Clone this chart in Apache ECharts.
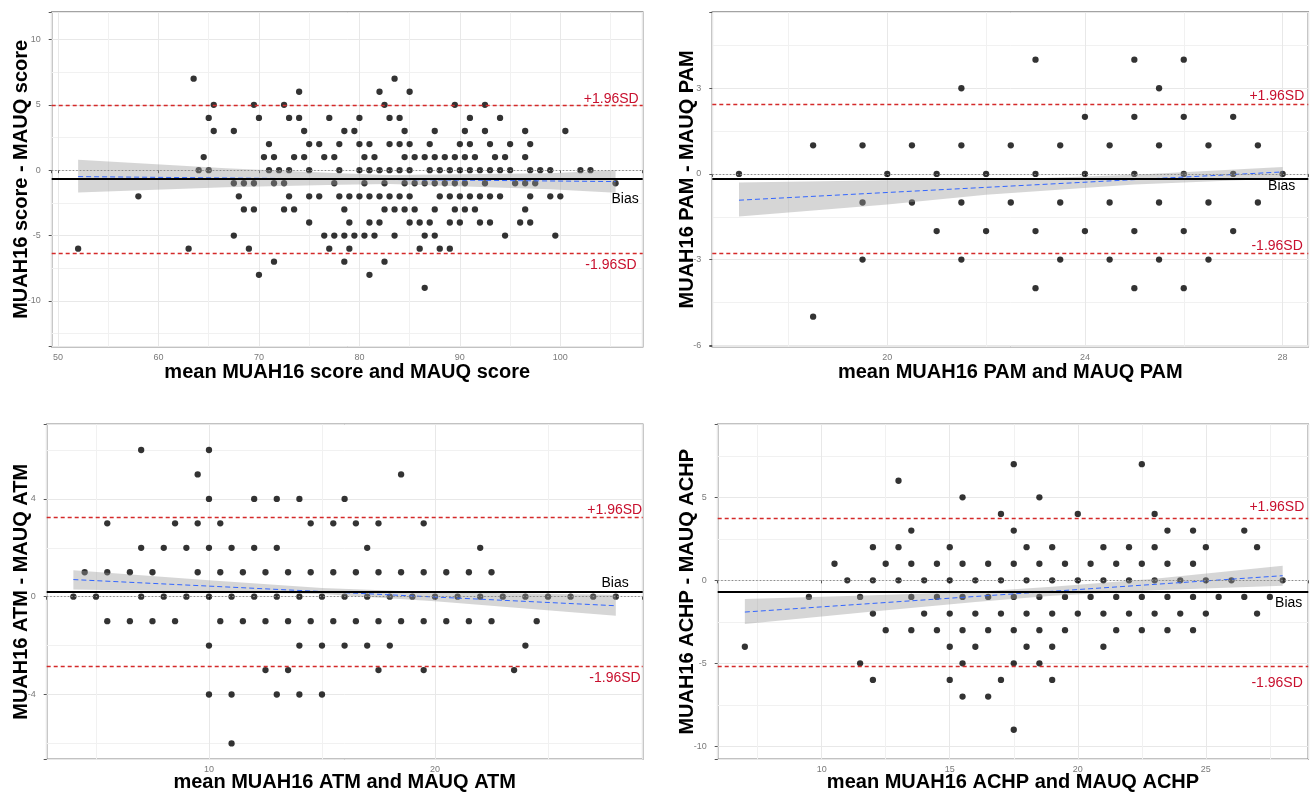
<!DOCTYPE html>
<html><head><meta charset="utf-8">
<script src="https://cdn.jsdelivr.net/npm/echarts@6/dist/echarts.min.js"></script>
<style>html,body{margin:0;padding:0;background:#fff}#c{width:1310px;height:797px}</style>
</head><body><div id="c"></div>
<script>
// ---------- DATA ----------
// Panel 1: score
const scorePoints = [
 [52,-6],[58,-2],[63,-6],[63.5,7],[64,0],[64.5,1],[65,4],[65,0],[65.5,5],[65.5,3],
 [74,6],[69.5,5],[72.5,5],[70,4],[73,4],[74,4],[77,4],[67.5,3],[74.5,3],[71,2],[75,2],[76,2],
 [70.5,1],[71.5,1],[73.5,1],[74.5,1],[76.5,1],[77.5,1],[71,0],[72,0],[73,0],[75,0],
 [67.5,-1],[68.5,-1],[69.5,-1],[71.5,-1],[72.5,-1],[77.5,-1],[68,-2],[73,-2],[75,-2],[76,-2],
 [68.5,-3],[69.5,-3],[72.5,-3],[73.5,-3],[75,-4],[67.5,-5],[76.5,-5],[77.5,-5],[69,-6],[77,-6],[71.5,-7],[70,-8],
 [83.5,7],[82,6],[85,6],[82.5,5],[80,4],[83,4],[84,4],[78.5,3],[79.5,3],[84.5,3],[87.5,3],
 [78,2],[80,2],[81,2],[83,2],[84,2],[85,2],[87,2],
 [80.5,1],[81.5,1],[84.5,1],[85.5,1],[86.5,1],[87.5,1],[88.5,1],
 [78,0],[80,0],[81,0],[82,0],[83,0],[84,0],[85,0],[87,0],[88,0],
 [80.5,-1],[82.5,-1],[84.5,-1],[85.5,-1],[86.5,-1],[87.5,-1],[88.5,-1],
 [78,-2],[79,-2],[80,-2],[81,-2],[82,-2],[83,-2],[84,-2],[85,-2],[88,-2],
 [78.5,-3],[82.5,-3],[83.5,-3],[84.5,-3],[85.5,-3],[87.5,-3],
 [79,-4],[81,-4],[82,-4],[85,-4],[86,-4],[87,-4],
 [78.5,-5],[79.5,-5],[80.5,-5],[81.5,-5],[83.5,-5],[86.5,-5],[87.5,-5],
 [79,-6],[86,-6],[88,-6],[78.5,-7],[82.5,-7],[81,-8],[86.5,-9],
 [89.5,5],[92.5,5],[91,4],[94,4],[90.5,3],[92.5,3],[96.5,3],[90,2],[91,2],[93,2],[95,2],[97,2],
 [89.5,1],[90.5,1],[91.5,1],[93.5,1],[94.5,1],[96.5,1],
 [89,0],[90,0],[91,0],[92,0],[93,0],[94,0],[95,0],[97,0],[98,0],[99,0],
 [89.5,-1],[90.5,-1],[92.5,-1],[95.5,-1],[96.5,-1],[97.5,-1],
 [89,-2],[90,-2],[91,-2],[92,-2],[93,-2],[94,-2],[97,-2],[99,-2],[100,-2],
 [89.5,-3],[90.5,-3],[91.5,-3],[96.5,-3],
 [89,-4],[90,-4],[92,-4],[93,-4],[96,-4],[97,-4],[94.5,-5],[99.5,-5],[89,-6],
 [100.5,3],[102,0],[103,0],[105.5,-1]
];
const scoreFit = [[52,-0.49],[105.5,-0.87]];
const scoreBand = [[52,-1.71,0.79],[66.7,-1.30,0.15],[78,-1.12,-0.23],[83,-1.05,-0.36],[99,-1.45,-0.23],[105.5,-1.72,0.0]];
const scoreLines = [-0.68, 5.0, -6.35];   // bias, +1.96SD, -1.96SD
const scoreXTicks = [50,60,70,80,90,100];
const scoreYTicks = [-10,-5,0,5,10];

// Panel 2: PAM
const pamPoints = [
 [17,0],[18.5,1],[18.5,-5],[19.5,1],[19.5,-1],[19.5,-3],[20,0],[20.5,1],[20.5,-1],[21,0],[21,-2],
 [21.5,3],[21.5,1],[21.5,-1],[21.5,-3],[22,0],[22,-2],
 [23,4],[25,4],[26,4],[25.5,3],[24,2],[25,2],[26,2],[27,2],
 [22.5,1],[23.5,1],[24.5,1],[25.5,1],[26.5,1],[27.5,1],
 [23,0],[24,0],[25,0],[26,0],[27,0],[28,0],
 [22.5,-1],[23.5,-1],[24.5,-1],[25.5,-1],[26.5,-1],[27.5,-1],
 [23,-2],[24,-2],[25,-2],[26,-2],[27,-2],
 [23.5,-3],[24.5,-3],[25.5,-3],[26.5,-3],[23,-4],[25,-4],[26,-4]
];
const pamFit = [[17,-0.92],[28,0.07]];
const pamBand = [[17,-1.49,-0.30],[20,-1.07,-0.22],[22,-0.73,-0.21],[25,-0.37,-0.03],[28,-0.16,0.24]];
const pamLines = [-0.17, 2.43, -2.77];
const pamXTicks = [20,24,28];
const pamYTicks = [-6,-3,0,3];

// Panel 3: ATM
const atmPoints = [
 [7,6],[10,6],[9.5,5],[10,4],[12,4],[13,4],[14,4],[5.5,3],[8.5,3],[9.5,3],[10.5,3],[14.5,3],
 [7,2],[8,2],[9,2],[10,2],[11,2],[12,2],[13,2],
 [4.5,1],[5.5,1],[6.5,1],[7.5,1],[9.5,1],[10.5,1],[11.5,1],[12.5,1],[13.5,1],[14.5,1],
 [4,0],[5,0],[7,0],[8,0],[9,0],[10,0],[11,0],[12,0],[13,0],[14,0],[15,0],
 [5.5,-1],[6.5,-1],[7.5,-1],[8.5,-1],[10.5,-1],[11.5,-1],[12.5,-1],[13.5,-1],[14.5,-1],
 [10,-2],[14,-2],[15,-2],[12.5,-3],[13.5,-3],[10,-4],[11,-4],[13,-4],[14,-4],[15,-4],[11,-6],
 [18.5,5],[16,4],[15.5,3],[16.5,3],[17.5,3],[19.5,3],[17,2],[22,2],
 [15.5,1],[16.5,1],[17.5,1],[18.5,1],[19.5,1],[20.5,1],[21.5,1],[22.5,1],
 [16,0],[17,0],[18,0],[19,0],[20,0],[21,0],[22,0],[23,0],[24,0],[25,0],[26,0],[27,0],[28,0],
 [15.5,-1],[16.5,-1],[17.5,-1],[18.5,-1],[19.5,-1],[20.5,-1],[21.5,-1],[22.5,-1],[24.5,-1],
 [16,-2],[17,-2],[18,-2],[24,-2],[17.5,-3],[19.5,-3],[23.5,-3]
];
const atmFit = [[4,0.70],[28,-0.37]];
const atmBand = [[4,0.29,1.08],[10,0.20,0.67],[15,0.11,0.36],[20,-0.19,0.18],[28,-0.78,0.08]];
const atmLines = [0.2, 3.24, -2.86];
const atmXTicks = [10,20];
const atmYTicks = [-4,0,4];

// Panel 4: ACHP
const achpPoints = [
 [7,-4],[9.5,-1],[10.5,1],[11,0],[11.5,-1],[11.5,-5],[12,2],[12,0],[12,-2],[12,-6],[12.5,1],[12.5,-3],
 [13,6],[13,2],[13,0],[13.5,3],[13.5,1],[13.5,-1],[13.5,-3],[14,0],[14,-2],[14.5,1],[14.5,-1],[14.5,-3],
 [15,2],[15,0],[15,-2],[15,-4],[15,-6],[15.5,5],[15.5,1],[15.5,-1],[15.5,-3],[15.5,-5],[15.5,-7],
 [16,0],[16,-2],[16,-4],
 [17.5,7],[22.5,7],[18.5,5],[17,4],[20,4],[23,4],[17.5,3],[23.5,3],[24.5,3],[26.5,3],
 [18,2],[19,2],[21,2],[22,2],[23,2],[25,2],[27,2],
 [16.5,1],[17.5,1],[18.5,1],[19.5,1],[20.5,1],[21.5,1],[22.5,1],[23.5,1],[24.5,1],
 [17,0],[18,0],[19,0],[20,0],[21,0],[22,0],[23,0],[24,0],[25,0],[26,0],[28,0],
 [16.5,-1],[17.5,-1],[18.5,-1],[19.5,-1],[20.5,-1],[21.5,-1],[22.5,-1],[23.5,-1],[24.5,-1],[25.5,-1],[26.5,-1],[27.5,-1],
 [17,-2],[18,-2],[19,-2],[20,-2],[21,-2],[22,-2],[23,-2],[24,-2],[25,-2],[27,-2],
 [16.5,-3],[17.5,-3],[18.5,-3],[19.5,-3],[21.5,-3],[22.5,-3],[23.5,-3],[24.5,-3],
 [18,-4],[19,-4],[21,-4],[17.5,-5],[18.5,-5],[17,-6],[19,-6],[16.5,-7],[17.5,-9]
];
const achpFit = [[7,-1.91],[28,0.28]];
const achpBand = [[7,-2.63,-1.13],[12,-1.88,-0.90],[16,-1.30,-0.68],[19,-0.93,-0.39],[23,-0.60,0.10],[28,-0.33,0.88]];
const achpLines = [-0.71, 3.77, -5.2];
const achpXTicks = [10,15,20,25];
const achpYTicks = [-10,-5,0,5];

// ---------- LAYOUT / STYLE ----------
const FONT = "'Liberation Sans', Arial, sans-serif";
const RED = '#c8102e';
const LOA = '#d42a2a';
const panels = [
 {pts: scorePoints, fit: scoreFit, band: scoreBand, lines: scoreLines, xt: scoreXTicks, yt: scoreYTicks,
  xName: 'mean MUAH16 score and MAUQ score', yName: 'MUAH16 score - MAUQ score',
  grid: {left: 51.7, top: 12, width: 591, height: 334.7}, x: [49.37, 108.2, 10], y: [-13.5, 12.1, 5],
  xGap: 15.5, yGap: 20, lab: {bias: ['insideEndBottom', 4, 13], up: ['insideEndTop', 4, -1.5], lo: ['insideEndBottom', 6, 5]}},
 {pts: pamPoints, fit: pamFit, band: pamBand, lines: pamLines, xt: pamXTicks, yt: pamYTicks,
  xName: 'mean MUAH16 PAM and MAUQ PAM', yName: 'MUAH16 PAM - MAUQ PAM',
  grid: {left: 712.3, top: 12, width: 596, height: 334.7}, x: [16.46, 28.52, 4], y: [-6.05, 5.67, 3],
  xGap: 15.5, yGap: 15, lab: {bias: ['insideEndBottom', 13, 0.5], up: ['insideEndTop', 4, 1], lo: ['insideEndTop', 5.5, 0]}},
 {pts: atmPoints, fit: atmFit, band: atmBand, lines: atmLines, xt: atmXTicks, yt: atmYTicks,
  xName: 'mean MUAH16 ATM and MAUQ ATM', yName: 'MUAH16 ATM - MAUQ ATM',
  grid: {left: 46.7, top: 424.3, width: 596, height: 335}, x: [2.82, 29.19, 10], y: [-6.65, 7.05, 4],
  xGap: 13, yGap: 15, lab: {bias: ['insideEndTop', 14, 1.4], up: ['insideEndTop', 0.5, 0.7], lo: ['insideEndBottom', 2, 5]}},
 {pts: achpPoints, fit: achpFit, band: achpBand, lines: achpLines, xt: achpXTicks, yt: achpYTicks,
  xName: 'mean MUAH16 ACHP and MAUQ ACHP', yName: 'MUAH16 ACHP - MAUQ ACHP',
  grid: {left: 717.7, top: 424.3, width: 590.6, height: 335}, x: [5.94, 29.0, 5], y: [-10.78, 9.4, 5],
  xGap: 13, yGap: 20.5, lab: {bias: ['insideEndBottom', 6, 4], up: ['insideEndTop', 4, 3.4], lo: ['insideEndBottom', 5.5, 9]}}
];

const grid = [], xAxis = [], yAxis = [], series = [];
function axisCommon(ticks, rng, name, gap, isX) {
  return {
    type: 'value', min: rng[0], max: rng[1], minInterval: rng[2], maxInterval: rng[2], splitNumber: 5,
    axisLine: {show: false},
    axisTick: {show: true, length: 3, lineStyle: {color: '#555', width: 1}},
    axisLabel: {show: true, color: '#7a7a7a', fontSize: 9, fontFamily: FONT, margin: isX ? 6 : 11,
      formatter: v => ticks.indexOf(Math.round(v * 1000) / 1000) >= 0 ? String(Math.round(v * 1000) / 1000) : ''},
    splitLine: {show: true, lineStyle: {color: '#e8e8e8', width: 1}},
    minorTick: {show: false, splitNumber: 2},
    minorSplitLine: {show: true, lineStyle: {color: '#f1f1f1', width: 1}},
    name: name, nameLocation: 'middle', nameGap: gap, nameMoveOverlap: false,
    nameTextStyle: {color: '#000', fontSize: 20, fontWeight: 'bold', fontFamily: FONT}
  };
}
function lbl(text, spec, color) {
  return {show: true, formatter: text, position: spec[0], distance: [spec[1], spec[2]],
    color: color, fontSize: 14, fontFamily: FONT};
}
panels.forEach((p, i) => {
  grid.push(Object.assign({show: true, borderColor: '#858585', borderWidth: 1.5, backgroundColor: '#fff', outerBoundsMode: 'none', containLabel: false}, p.grid));
  xAxis.push(Object.assign(axisCommon(p.xt, p.x, p.xName, p.xGap, true), {gridIndex: i}));
  yAxis.push(Object.assign(axisCommon(p.yt, p.y, p.yName, p.yGap, false), {gridIndex: i}));
  series.push({
    type: 'scatter', xAxisIndex: i, yAxisIndex: i, data: p.pts, symbol: 'circle', symbolSize: 6.3,
    itemStyle: {color: '#000'}, z: 2, silent: true
  });
  series.push({
    type: 'custom', xAxisIndex: i, yAxisIndex: i, data: p.band, encode: {x: 0, y: 1}, z: 3, silent: true,
    renderItem: (params, api) => {
      if (params.dataIndex !== 0) return null;
      const top = p.band.map(d => api.coord([d[0], d[2]]));
      const bot = p.band.slice().reverse().map(d => api.coord([d[0], d[1]]));
      return {type: 'polygon', shape: {points: top.concat(bot)}, style: {fill: 'rgba(153,153,153,0.4)'}};
    }
  });
  series.push({
    type: 'line', xAxisIndex: i, yAxisIndex: i, data: p.fit, showSymbol: false, symbol: 'none', z: 4, silent: true,
    lineStyle: {color: '#3366FF', width: 1, type: [5, 3]},
    markLine: {
      silent: true, symbol: ['none', 'none'], animation: false,
      data: [
        {yAxis: 0, lineStyle: {type: [1.5, 2], color: '#8a8a8a', width: 1}, label: {show: false}},
        {yAxis: p.lines[0], lineStyle: {type: 'solid', color: '#000', width: 1.8}, label: lbl('Bias', p.lab.bias, '#000')},
        {yAxis: p.lines[1], lineStyle: {type: [4, 3], color: LOA, width: 1.4}, label: lbl('+1.96SD', p.lab.up, RED)},
        {yAxis: p.lines[2], lineStyle: {type: [4, 3], color: LOA, width: 1.4}, label: lbl('-1.96SD', p.lab.lo, RED)}
      ]
    }
  });
});

const chart = echarts.init(document.getElementById('c'), null, {renderer: 'canvas'});
chart.setOption({animation: false, backgroundColor: '#fff', grid, xAxis, yAxis, series});
</script></body></html>
